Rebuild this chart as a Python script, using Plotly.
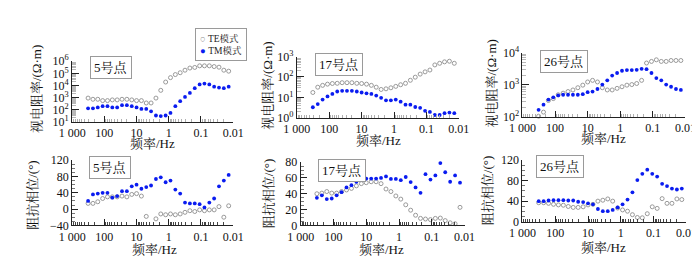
import plotly.graph_objects as go

W, H = 700, 263

# ---------------- data ----------------
freq = [320, 226, 160, 113, 80, 56.6, 40, 28.3, 20, 14.1, 10, 7.07, 5, 3.54, 2.5, 1.77,
        1.25, 0.884, 0.625, 0.442, 0.313, 0.221, 0.156, 0.110, 0.078, 0.055, 0.039,
        0.0276, 0.0195, 0.0138, 0.0098]

x_tickvals = [1000, 100, 10, 1, 0.1, 0.01]
x_ticktext = ["1 000", "100", "10", "1", "0.1", "0.01"]

site_names = ["5号点", "17号点", "26号点"]

# site 5 (30 frequencies)
rho_te_5 = [890, 710, 710, 550, 550, 630, 630, 710, 710, 630, 550, 550, 350, 350, 890,
            3900, 19000, 44000, 79000, 112000, 182000, 275000, 309000, 417000, 417000,
            417000, 363000, 324000, 182000, 151000]
rho_tm_5 = [126, 126, 151, 191, 191, 151, 151, 229, 229, 191, 151, 112, 112, 71, 32, 29,
            32, 52, 191, 490, 1120, 2400, 5900, 12000, 14100, 12000, 7900, 6600, 5900, 7900]
phs_te_5 = [14, 14, 18, 26, 30, 30, 30, 32, 30, 36, 38, 32, -18, None, -24, -12, -14, -12,
            -14, -12, -8, -4, -6, -2, -4, -2, -2, 6, -20, 8]
phs_tm_5 = [20, 36, 38, 40, 40, 28, 32, 44, 44, 56, 60, 50, 54, 58, 74, 78, 66, 70, 48, 38,
            16, 14, 14, 12, 4, 16, 26, 56, 70, 84]

# site 17 (31 frequencies)
rho_te_17 = [17.4, 31.6, 38.9, 44.7, 47.9, 49, 52.5, 52.5, 52.5, 49, 47.9, 44.7, 38.9, 31.6,
             24.5, 26.3, 29.5, 34.7, 41.7, 49, 69, 98, 138, 178, 219, 389, 468, 550, 589,
             468, 363]
rho_tm_17 = [3.3, 4.7, 7.8, 11.2, 14.8, 19.5, 20.9, 20.9, 20.9, 19.5, 17.4, 15.8, 14.8, 12.3,
             9.5, 7.2, 7.2, 7.8, 6.2, 4.4, 4.4, 3.4, 3.1, 2.2, 1.95, 1.38, 1.38, 1.7, 1.82,
             1.7, 1.55]
phs_te_17 = [40, 40.8, 42.8, 40.8, 40.8, 42.8, 44.8, 46.8, 50, 52.8, 54, 55.2, 55.2, 52.8, 46,
             42.8, 37.2, 33.2, 26, 19.2, 12.8, 8.8, 8, 7.2, 8.8, 9.2, 6, 3.2, 2, 22.8, 41.2]
phs_tm_17 = [34.8, 38, 33.2, 34, 38, 42, 48, 50.8, 55.2, 57.2, 59.2, 59.2, 59.2, 60, 62, 58.8,
             58.8, 57.2, 61.2, 54.8, 48, 41.2, 64.8, 58, 63.2, 78.8, 67.2, 55.2, 63.2, 54, 60.8]

# site 26 (31 frequencies)
rho_te_26 = [105, 141, 324, 372, 490, 550, 617, 692, 813, 977, 1230, 1380, 1230, 813, 692,
             692, 776, 871, 977, 1020, 1100, 1380, 4790, 5370, 6030, 5370, 5370, 5750, 5750,
             5750, 5370]
rho_tm_26 = [166, 240, 347, 407, 468, 490, 490, 490, 490, 513, 589, 617, 741, 1020, 1380,
             1950, 2340, 2750, 2880, 2880, 2950, 3160, 3090, 2340, 1620, 1380, 1020, 871,
             741, 692, 617]
phs_te_26 = [36.9, 36.9, 35.7, 33.8, 32.6, 32, 29.5, 27.7, 27.7, 28.9, 32.6, 33.8, 40, 41.8,
             44.3, 40, 26.5, 22.8, 20.3, 13.5, 8, 7.4, 15.4, 28.9, 25.8, 44.9, 35.7, 35.7,
             44.3, 43.1, 28.9]
phs_tm_26 = [40, 40, 41.2, 41.8, 41.8, 41.8, 41.2, 41.2, 38.8, 38.2, 35.7, 33.8, 24.6, 20.3,
             20.3, 22.8, 27.7, 33.8, 43.1, 57.2, 81.2, 93.5, 101.5, 93.5, 88, 73.8, 69.5,
             64.6, 62.8, 64.6, 64.6]

# ---------------- styling ----------------
FONT = "Liberation Serif, Times New Roman, Noto Serif CJK SC, Noto Sans CJK SC, serif"
TE_COLOR = "#8f8f8f"
TM_COLOR = "#0a1cf0"
AX = "#222222"


def px_x(p):
    return p / W


def px_y(p):
    return 1 - p / H


# panel boxes in pixels: (left, right, top, bottom)
boxes = [
    (52, 219, 48, 112), (285, 453, 43, 108), (519, 688, 39, 107),
    (52, 219, 153, 222), (289, 459, 155, 222), (519, 689, 153, 218),
]

rho_sets = [(rho_te_5, rho_tm_5), (rho_te_17, rho_tm_17), (rho_te_26, rho_tm_26)]
phs_sets = [(phs_te_5, phs_tm_5), (phs_te_17, phs_tm_17), (phs_te_26, phs_tm_26)]

fig = go.Figure()

minor_x = [m * 10 ** e for e in range(-2, 3) for m in range(2, 10)]


def add_pair(idx, te, tm):
    xa = "x" if idx == 1 else f"x{idx}"
    ya = "y" if idx == 1 else f"y{idx}"
    fig.add_trace(go.Scatter(x=freq[:len(te)], y=te, mode="markers", xaxis=xa, yaxis=ya,
                             name="TE模式", showlegend=False, cliponaxis=False,
                             marker=dict(symbol="circle-open", size=4, color=TE_COLOR,
                                         line=dict(width=0.9, color=TE_COLOR))))
    fig.add_trace(go.Scatter(x=freq[:len(tm)], y=tm, mode="markers", xaxis=xa, yaxis=ya,
                             name="TM模式", showlegend=False, cliponaxis=False,
                             marker=dict(symbol="circle", size=3.8, color=TM_COLOR)))


for i, (te, tm) in enumerate(rho_sets):
    add_pair(i + 1, te, tm)
for i, (te, tm) in enumerate(phs_sets):
    add_pair(i + 4, te, tm)

layout = dict(width=W, height=H, margin=dict(l=0, r=0, t=0, b=0),
              paper_bgcolor="white", plot_bgcolor="white",
              font=dict(family=FONT, size=12, color="#111"))

rho_ranges = [(1, 6), (0, 3), (2, 4)]
phs_ranges = [(-40, 120, 40), (0, 80, 20), (0, 120, 40)]

for k in range(6):
    l, r, t, b = boxes[k]
    xk = "xaxis" if k == 0 else f"xaxis{k + 1}"
    yk = "yaxis" if k == 0 else f"yaxis{k + 1}"
    anchor_y = "y" if k == 0 else f"y{k + 1}"
    anchor_x = "x" if k == 0 else f"x{k + 1}"
    minor_col = "#b0b0b0" if k < 3 else "#444444"
    layout[xk] = dict(type="log", range=[3, -2], autorange=False,
                      domain=[px_x(l), px_x(r)], anchor=anchor_y,
                      tickmode="array", tickvals=x_tickvals, ticktext=x_ticktext,
                      ticks="inside", ticklen=6, tickwidth=1, tickcolor=AX,
                      showline=True, linecolor=AX, linewidth=1, showgrid=False,
                      zeroline=False, tickfont=dict(size=12, family=FONT),
                      minor=dict(tickmode="array", tickvals=minor_x, ticks="inside",
                                 ticklen=3, tickcolor=minor_col, showgrid=False))
    if k < 3:
        lo, hi = rho_ranges[k]
        tv = [10 ** e for e in range(lo, hi + 1)]
        tt = [f"10<sup>{e}</sup>" for e in range(lo, hi + 1)]
        minor_y = [m * 10 ** e for e in range(lo, hi) for m in range(2, 10)]
        layout[yk] = dict(type="log", range=[lo, hi], autorange=False,
                          domain=[px_y(b), px_y(t)],
                          anchor=anchor_x, tickmode="array", tickvals=tv, ticktext=tt,
                          ticks="inside", ticklen=7, tickcolor=AX, showline=True,
                          linecolor=AX, linewidth=1, showgrid=False, zeroline=False,
                          tickfont=dict(size=12, family=FONT),
                          minor=dict(tickmode="array", tickvals=minor_y, ticks="inside",
                                     ticklen=4, tickcolor="#b8b8b8", showgrid=False))
    else:
        lo, hi, dt = phs_ranges[k - 3]
        layout[yk] = dict(range=[lo, hi], autorange=False, domain=[px_y(b), px_y(t)],
                          anchor=anchor_x,
                          tickmode="linear", tick0=lo, dtick=dt, ticks="inside", ticklen=6,
                          tickcolor=AX, showline=True, linecolor=AX, linewidth=1,
                          showgrid=False, zeroline=False,
                          tickfont=dict(size=12, family=FONT),
                          minor=dict(dtick=dt / 4, ticks="inside", ticklen=3,
                                     tickcolor="#777", showgrid=False))

annotations = []


def ann(cx, cy, text, **kw):
    d = dict(x=px_x(cx), y=px_y(cy), xref="paper", yref="paper", text=text,
             showarrow=False, xanchor="center", yanchor="middle")
    d.update(kw)
    annotations.append(d)


# site labels (boxes)
label_pos = [(92, 55), (329, 51), (562, 48), (91, 161), (332, 164), (558, 160)]
for k, (cx, cy) in enumerate(label_pos):
    ann(cx, cy, site_names[k % 3], font=dict(size=13, family=FONT, color="#111"),
        bordercolor="#9a9a9a", borderwidth=1, borderpad=3, bgcolor="white")

# y axis titles
ytitle_pos = [(15, 77), (255, 74), (487, 72), (11, 190), (255, 188), (483, 185)]
for k, (cx, cy) in enumerate(ytitle_pos):
    ann(cx, cy, "视电阻率/(Ω·m)" if k < 3 else "阻抗相位/(°)", textangle=-90,
        font=dict(size=13, family=FONT, color="#111"))

# x axis titles
xtitle_pos = [(135, 135), (370, 132), (603, 130), (137, 248), (373, 248), (603, 246)]
for cx, cy in xtitle_pos:
    ann(cx, cy, "频率/Hz", font=dict(size=13, family=FONT, color="#111"))

# legend box
ann(206, 30, (f'<span style="color:{TE_COLOR}">○</span> TE模式<br>'
              f'<span style="color:{TM_COLOR}">●</span> TM模式'),
    align="left", font=dict(size=9.5, family=FONT, color="#222"),
    bordercolor="#9a9a9a", borderwidth=1, borderpad=4, bgcolor="white")

layout["annotations"] = annotations
fig.update_layout(**layout)
fig.write_html("out.html")
